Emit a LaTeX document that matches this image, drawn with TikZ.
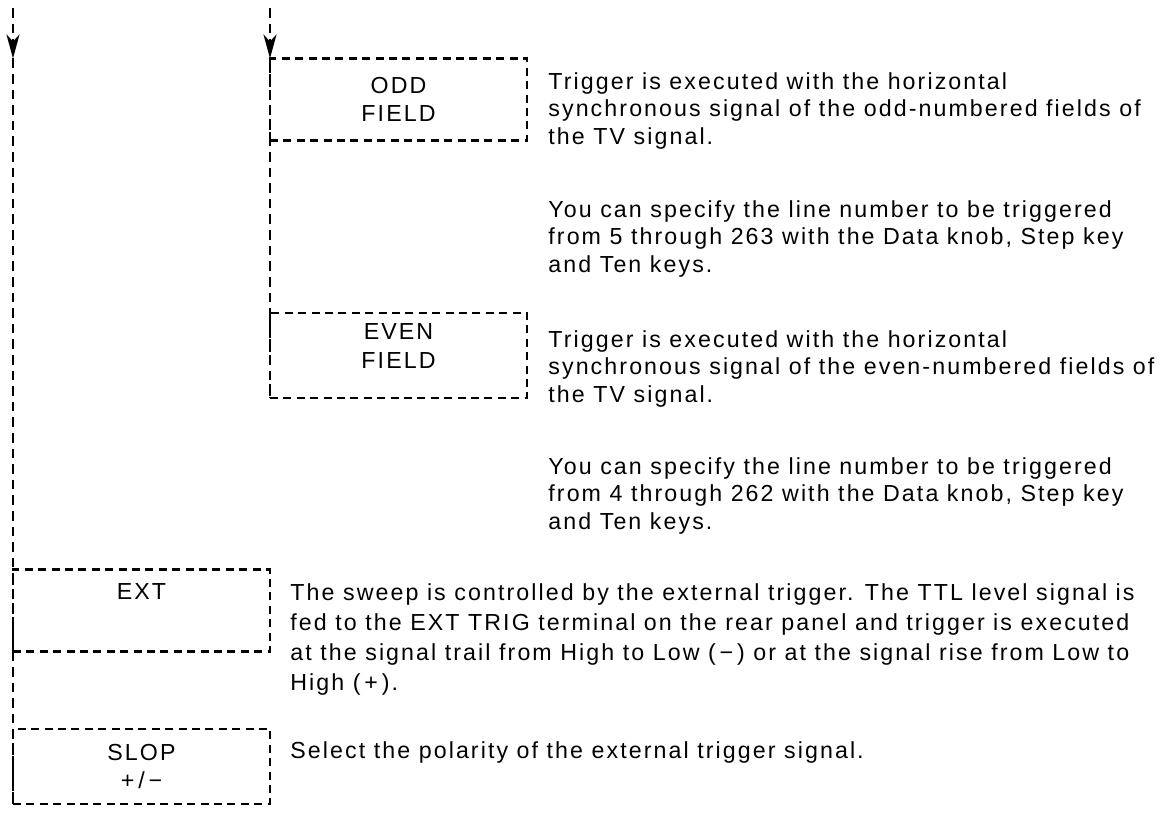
\documentclass[tikz,border=0pt]{standalone}
\usepackage{fontspec}
\setmainfont{Liberation Sans}[LetterSpace=9]
\usetikzlibrary{arrows.meta}

\begin{document}
\begin{tikzpicture}[x=0.5pt, y=-0.5pt, >={Stealth[length=12pt, width=6.5pt, inset=3.5pt]},
  every node/.style={font=\fontsize{11.6}{13.7}\selectfont},
  flow/.style={line width=1.3pt, dash pattern=on 4.8pt off 3pt},
  field/.style={draw, line width=1.3pt, dash pattern=on 4pt off 2.7pt, align=center,
    inner sep=0pt, outer sep=0pt, minimum width=128.5pt, minimum height=41pt},
  desc/.style={anchor=north west, align=left, inner sep=0pt}]
  \useasboundingbox (0,0) rectangle (1163,813);

  % trigger source boxes
  \node[field] (odd) at (398.5,99.5) {ODD\\[0.6pt]FIELD};
  \node[field, minimum height=42.5pt, text depth=9.5pt] (even) at (398.5,355.5) {EVEN\\[0.6pt]FIELD};
  \node[field, text depth=18.5pt] (ext) at (141.5,610.5) {EXT};
  \node[field, minimum height=37.5pt] (slop) at (141.5,766.5) {SLOP\\[0.6pt]+\,/\,−};

  % descriptions
  \node[desc] (oddtxt) at (548,72) {Trigger is executed with the horizontal\\synchronous signal of the odd-numbered fields of\\the TV signal.};
  \node[desc] (oddline) at (548,200) {You can specify the line number to be triggered\\from 5 through 263 with the Data knob, Step key\\and Ten keys.};
  \node[desc] (eventxt) at (548,330) {Trigger is executed with the horizontal\\synchronous signal of the even-numbered fields of\\the TV signal.};
  \node[desc] (evenline) at (548,457) {You can specify the line number to be triggered\\from 4 through 262 with the Data knob, Step key\\and Ten keys.};
  \node[desc, font=\fontsize{11.6}{15}\selectfont] (exttxt) at (290,583) {The sweep is controlled by the external trigger. The TTL level signal is\\fed to the EXT TRIG terminal on the rear panel and trigger is executed\\at the signal trail from High to Low (\,−\,) or at the signal rise from Low to\\High (\,+\,).};
  \node[desc] (sloptxt) at (290,741) {Select the polarity of the external trigger signal.};

  % dashed flow lines
  \coordinate (topl) at (13,8);
  \coordinate (topr) at (270,8);
  \draw[flow, ->] (topl) -- (topl |- odd.north);
  \draw[flow] (topl |- odd.north) -- (slop.south west);
  \draw[flow, ->] (topr) -- (odd.north west);
  \draw[flow] (odd.north west) -- (even.south west);
\end{tikzpicture}
\end{document}
